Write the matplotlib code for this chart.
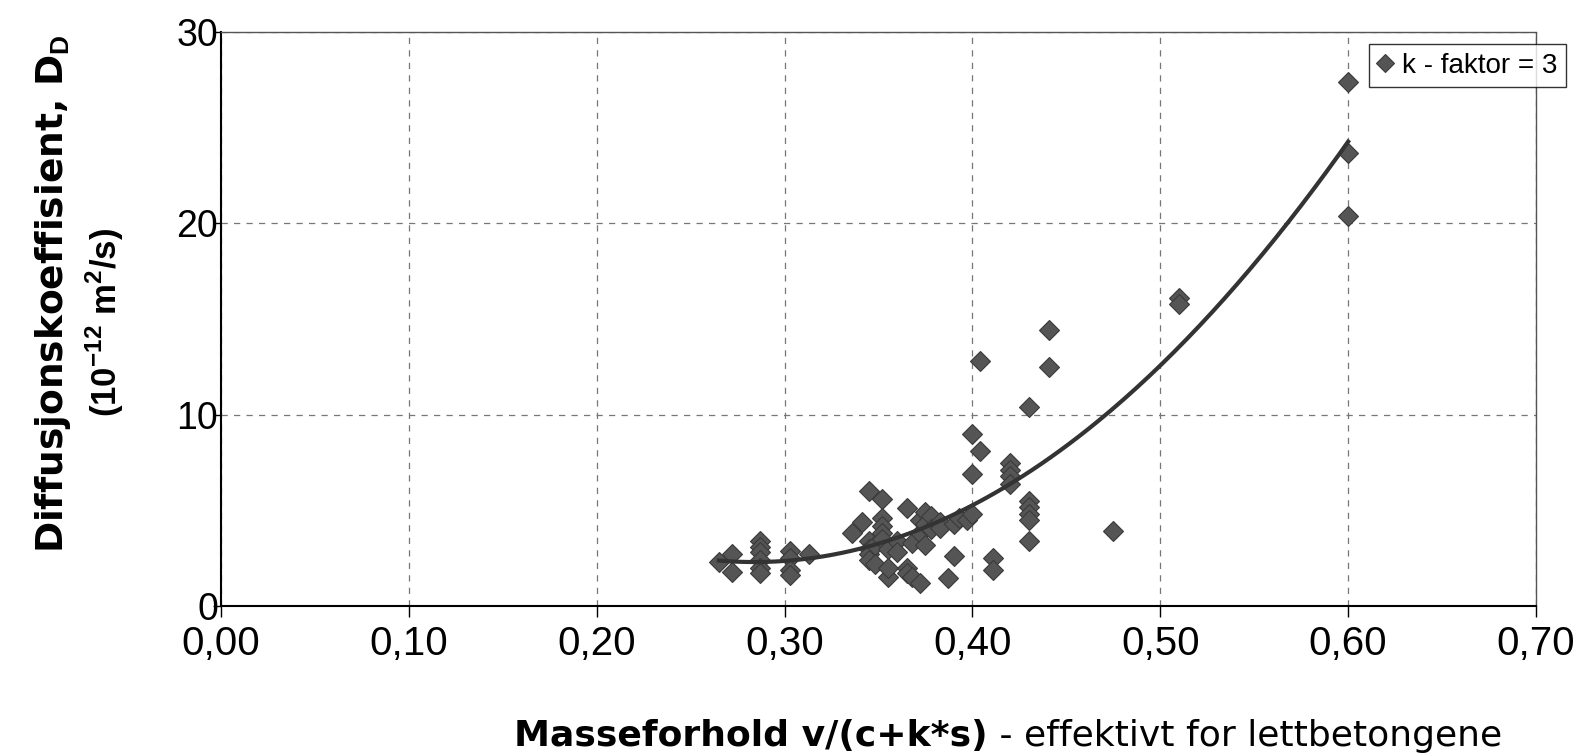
import numpy as np
import matplotlib
matplotlib.use("Agg")
import matplotlib.pyplot as plt
from matplotlib.ticker import FuncFormatter

plt.rcParams.update({
    "font.family": ["Liberation Sans", "DejaVu Sans"],
    "mathtext.fontset": "custom",
    "mathtext.rm": "Liberation Sans",
    "mathtext.bf": "Liberation Sans:bold",
})

# ── Data ─────────────────────────────────────────────────────────────────────
vc_ratio = [
    0.265, 0.272, 0.272,
    0.287, 0.287, 0.287, 0.287, 0.287, 0.287,
    0.303, 0.303, 0.303, 0.303, 0.313,
    0.336, 0.341, 0.345, 0.345, 0.345, 0.345, 0.345,
    0.348, 0.348, 0.352, 0.352, 0.352, 0.352, 0.352,
    0.355, 0.355, 0.355, 0.360, 0.360,
    0.365, 0.365, 0.365, 0.368, 0.368,
    0.372, 0.372, 0.372, 0.375, 0.375, 0.375,
    0.378, 0.378, 0.383, 0.383, 0.387, 0.390, 0.390, 0.393, 0.397,
    0.400, 0.400, 0.400, 0.404, 0.404, 0.411, 0.411,
    0.420, 0.420, 0.420, 0.420,
    0.430, 0.430, 0.430, 0.430, 0.430, 0.430,
    0.441, 0.441, 0.475, 0.510, 0.510,
    0.600, 0.600, 0.600,
]
diff_coef = [
    2.3, 2.7, 1.8,
    3.4, 3.1, 2.8, 2.4, 2.0, 1.7,
    2.9, 2.5, 1.9, 1.6, 2.7,
    3.8, 4.4, 6.0, 3.4, 3.0, 2.7, 2.4,
    3.2, 2.2, 5.6, 4.6, 4.2, 3.8, 3.5,
    1.5, 2.0, 3.0, 3.4, 2.8,
    5.1, 2.0, 1.7, 1.5, 3.3,
    1.2, 3.8, 4.5, 4.9, 4.3, 3.2,
    4.7, 4.0, 4.4, 4.1, 1.45, 2.6, 4.3, 4.6, 4.5,
    9.0, 6.9, 4.8, 12.8, 8.1, 2.5, 1.9,
    7.5, 7.1, 6.8, 6.4,
    10.4, 5.5, 5.2, 4.8, 4.5, 3.4,
    14.4, 12.5, 3.9, 16.1, 15.8,
    27.4, 23.7, 20.4,
]

x_ticks = [0.0, 0.1, 0.2, 0.3, 0.4, 0.5, 0.6, 0.7]
y_ticks = [0, 10, 20, 30]

x = np.array(vc_ratio)
y = np.array(diff_coef)

# second-order trendline like the spreadsheet
coef = np.polyfit(x, y, 2)
xs = np.linspace(x.min(), x.max(), 200)
ys = np.polyval(coef, xs)

fig = plt.figure(figsize=(15.82, 7.56), dpi=100)
ax = fig.add_axes([0.1397, 0.1984, 0.8312, 0.7593])

ax.plot(x, y, ls="none", marker="D", ms=10.5, color="#555555",
        mec="#3a3a3a", mew=0.8, label="k - faktor = 3", zorder=3)
ax.plot(xs, ys, color="#333333", lw=3, zorder=4)

ax.set_xlim(0, 0.7)
ax.set_ylim(0, 30)
ax.set_xticks(x_ticks)
ax.set_yticks(y_ticks)
ax.xaxis.set_major_formatter(FuncFormatter(lambda v, p: f"{v:.2f}".replace(".", ",")))
ax.tick_params(axis="x", labelsize=29, direction="out", length=8, width=1, pad=6)
ax.tick_params(axis="y", labelsize=27, direction="out", length=6, width=1, pad=-4)

ax.grid(True, color="#777777", ls=(0, (5, 5)), lw=0.9)
ax.set_axisbelow(True)
for s in ("left", "bottom"):
    ax.spines[s].set_color("black")
    ax.spines[s].set_linewidth(1.5)
for s in ("top", "right"):
    ax.spines[s].set_color("#555555")
    ax.spines[s].set_linewidth(1.0)
    ax.spines[s].set_linestyle((0, (1, 1)))

# y label, two lines placed separately
fig.text(0.0335, 0.611, "Diffusjonskoeffisient, D$_\\mathbf{D}$",
         family="DejaVu Sans", fontsize=27, fontweight="bold", rotation=90,
         ha="center", va="center")
fig.text(0.0665, 0.573, "(10$^{\\mathbf{-12}}$ m$^\\mathbf{2}$/s)",
         fontsize=25, fontweight="bold", rotation=90,
         ha="center", va="center")

# x label: bold part + normal part
lbl_bold = fig.text(0.325, 0.026, "Masseforhold v/(c+k*s)", family="DejaVu Sans",
                    fontsize=26, fontweight="bold", ha="left", va="center")
fig.canvas.draw()
bb = lbl_bold.get_window_extent().transformed(fig.transFigure.inverted())
fig.text(bb.x1, 0.026, " - effektivt for lettbetongene", family="DejaVu Sans",
         fontsize=26, ha="left", va="center")

leg = ax.legend(loc="upper right", bbox_to_anchor=(1.0227, 0.9784),
                fontsize=20, frameon=True,
                fancybox=False, edgecolor="black", handlelength=0.6,
                handletextpad=0.3, borderpad=0.3, borderaxespad=0,
                markerscale=0.85)
leg.get_frame().set_linewidth(1.0)
leg.set_zorder(5)

fig.savefig("out.png", dpi=100)
